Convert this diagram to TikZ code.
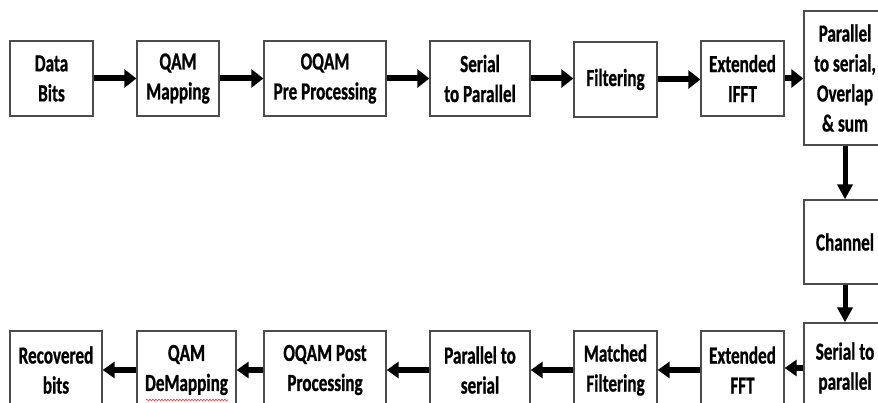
\documentclass[tikz,border=0pt]{standalone}
\usepackage{fontspec}
\setmainfont{Carlito}[FakeStretch=0.7, BoldFeatures={FakeStretch=0.7, FakeBold=0.8}]
\usetikzlibrary{arrows.meta,decorations.pathmorphing}
\begin{document}
\begin{tikzpicture}[x=1pt,y=-1pt,
  box/.style={draw=black!70, line width=1.3pt, inner sep=0pt, align=center,
    font=\bfseries\fontsize{24.5}{30}\selectfont},
  arr/.style={line width=6pt, -{Triangle[length=12pt,width=18pt]}},
  varr/.style={line width=5pt, -{Triangle[length=15pt,width=15pt]}},
  larr/.style={line width=5.5pt, -{Triangle[length=12pt,width=16pt]}}]
\useasboundingbox (0,0) rectangle (878,403);
\clip (0,0) rectangle (878,403);
% top row
\node[box, minimum width=83pt, minimum height=75pt] (data) at (51.5,78.5) {Data\\Bits};
\node[box, minimum width=82pt, minimum height=75pt] (qam) at (178,78.5) {QAM\\Mapping};
\node[box, minimum width=122pt, minimum height=75pt] (pre) at (325,78.5) {OQAM\\Pre Processing};
\node[box, minimum width=100pt, minimum height=75pt] (sp) at (480,78.5) {Serial\\to Parallel};
\node[box, minimum width=83pt, minimum height=75pt] (filt) at (615.5,79.5) {Filtering};
\node[box, minimum width=83pt, minimum height=75pt] (ifft) at (742.5,78.5) {Extended\\IFFT};
\node[box, minimum width=82pt, minimum height=134pt] (ps) at (845,78) {Parallel\\to serial,\\Overlap\\\& sum};
\node[box, minimum width=82pt, minimum height=84pt] (chan) at (845,242) {Channel};
\node[box, minimum width=82pt, minimum height=90pt] (sp2) at (845,368) {Serial to\\parallel};
% bottom row
\node[box, minimum width=83pt, minimum height=78pt] (fft) at (742.5,370) {Extended\\FFT};
\node[box, minimum width=83pt, minimum height=78pt] (mf) at (615.5,370) {Matched\\Filtering};
\node[box, minimum width=100pt, minimum height=78pt] (ps2) at (480,370) {Parallel to\\serial};
\node[box, minimum width=122pt, minimum height=78pt] (post) at (325,370) {OQAM Post\\Processing};
\node[box, minimum width=99pt, minimum height=78pt] (demap) at (186.5,370) {QAM\\DeMapping};
\node[box, minimum width=92pt, minimum height=78pt] (rec) at (56,370) {Recovered\\bits};
% spell-check underline
\coordinate (u1) at (146,400);
\coordinate (u2) at (228,400);
\draw[red!80, line width=0.6pt, decorate, decoration={snake, amplitude=0.8pt, segment length=3pt}] (u1) -- (u2);
% arrows top row
\draw[arr] (data.east) -- (qam.west);
\draw[arr] (qam.east) -- (pre.west);
\draw[arr] (pre.east) -- (sp.west);
\draw[arr] (sp.east) -- (sp.east -| filt.west);
\draw[arr] (filt.east) -- (filt.east -| ifft.west);
\draw[arr] (ifft.east) -- (ifft.east -| ps.west);
% vertical
\draw[varr] (ps.south) -- (chan.north);
\draw[varr] (chan.south) -- (sp2.north);
% bottom row
\draw[larr] (sp2.west) -- (sp2.west -| fft.east);
\draw[larr] (fft.west) -- (mf.east);
\draw[larr] (mf.west) -- (ps2.east);
\draw[larr] (ps2.west) -- (post.east);
\draw[larr] (post.west) -- (demap.east);
\draw[larr] (demap.west) -- (rec.east);
\end{tikzpicture}
\end{document}
